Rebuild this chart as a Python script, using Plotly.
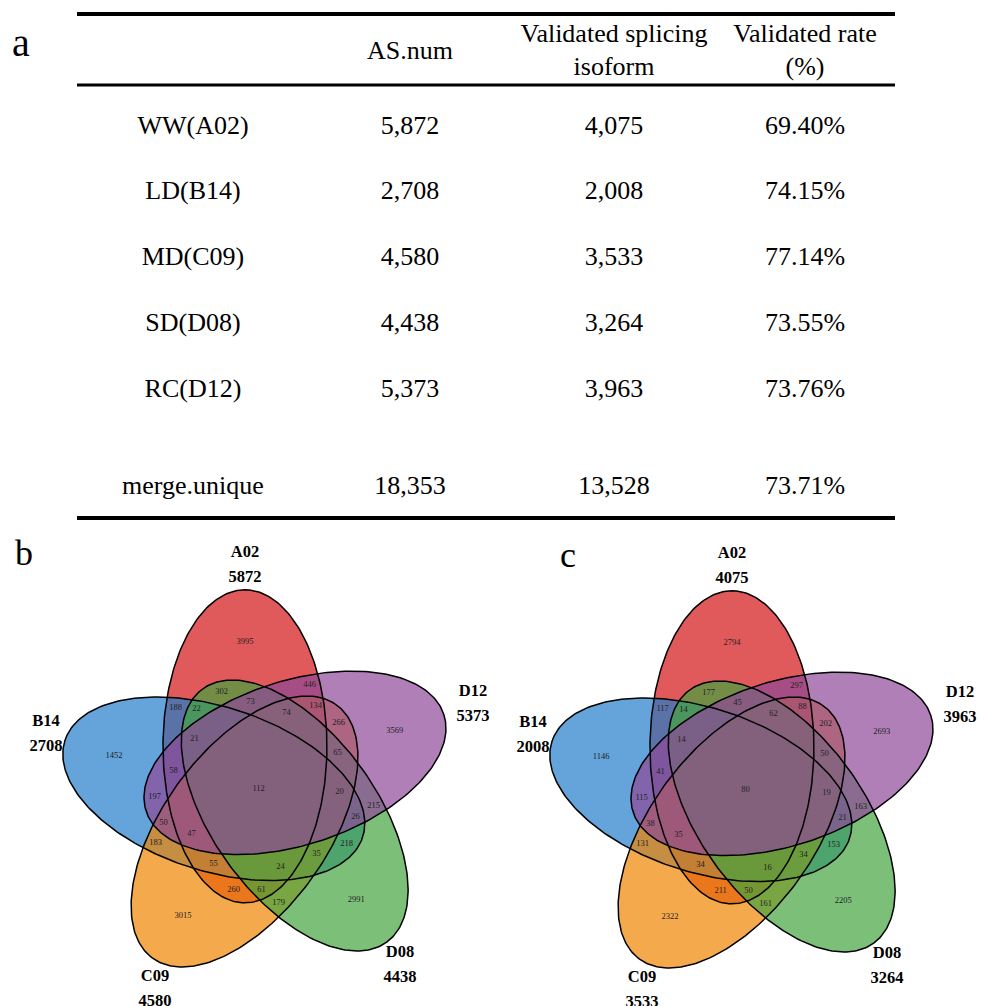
import numpy as np
import plotly.graph_objects as go

# ---------------- data: panel a (table) ----------------
samples = ["WW(A02)", "LD(B14)", "MD(C09)", "SD(D08)", "RC(D12)", "merge.unique"]
as_num = [5872, 2708, 4580, 4438, 5373, 18353]
validated = [4075, 2008, 3533, 3264, 3963, 13528]
rate = [69.40, 74.15, 77.14, 73.55, 73.76, 73.71]
headers = ["", "AS.num", "Validated splicing<br>isoform", "Validated rate<br>(%)"]

# ---------------- data: panels b, c (5-set Venn) ----------------
set_letters = ["A", "B", "C", "D", "E"]
set_names = ["A02", "B14", "C09", "D08", "D12"]
combos = ["A", "B", "C", "D", "E",
          "AB", "AC", "AD", "AE", "BC", "BD", "BE", "CD", "CE", "DE",
          "ABC", "ABD", "ABE", "ACD", "ACE", "ADE", "BCD", "BCE", "BDE", "CDE",
          "ABCD", "ABCE", "ABDE", "ACDE", "BCDE", "ABCDE"]
counts_b = [3995, 1452, 3015, 2991, 3569,
            188, 260, 302, 446, 183, 218, 197, 179, 266, 215,
            55, 22, 58, 61, 134, 73, 35, 50, 26, 65,
            24, 47, 21, 74, 20, 112]
counts_c = [2794, 1146, 2322, 2205, 2693,
            117, 211, 177, 297, 131, 153, 115, 161, 202, 163,
            34, 14, 41, 50, 88, 45, 34, 38, 21, 50,
            16, 35, 14, 62, 19, 80]

# ---------------- layout / style constants ----------------
W, H = 988, 1006
SERIF = "Liberation Serif, Times New Roman, serif"
SEMI_MAJOR, SEMI_MINOR = 156.5, 82.0
CENTER_SHIFT, SHIFT_ANGLE, MAJOR_ANGLE = 44.8, 107.7, 90.0
VENN_CENTERS = [(258.6, 789.0), (745.6, 790.0)]
FILLS = ["rgba(211,19,22,0.7)", "rgba(34,126,202,0.7)", "rgba(239,132,2,0.7)",
         "rgba(69,164,62,0.7)", "rgba(142,72,152,0.7)"]
NAME_OFFSETS = [(-13.6, -236), (-212.6, -67), (-103.6, 188), (141.4, 164), (214.4, -97)]
TOTAL_DY = 25
SINGLE_LABEL_FRAC = 0.67   # single-set labels sit on the major axis, toward the outer tip
PULL_MULTI = 0.05

COL_X = [193, 410, 614, 805]
HEADER_Y = 52
ROW_Y0, ROW_STEP, SUMMARY_GAP = 127, 65.8, 97
TABLE_X0, TABLE_X1 = 77, 895
RULES = [(14, 4), (85, 3), (518, 4)]
TABLE_FONT = 26

fig = go.Figure()


def ellipse_params(cx, cy):
    out = []
    for k in range(5):
        ang = np.radians(SHIFT_ANGLE + 72 * k)
        ex = cx + CENTER_SHIFT * np.cos(ang)
        ey = cy - CENTER_SHIFT * np.sin(ang)
        out.append((ex, ey, np.radians(MAJOR_ANGLE + 72 * k)))
    return out


def ellipse_xy(ex, ey, rot, n=260):
    t = np.linspace(0, 2 * np.pi, n)
    u, v = SEMI_MAJOR * np.cos(t), SEMI_MINOR * np.sin(t)
    return ex + u * np.cos(rot) - v * np.sin(rot), ey - (u * np.sin(rot) + v * np.cos(rot))


def region_label_positions(params, cx, cy):
    gx = np.arange(cx - 260, cx + 260, 1.0)
    gy = np.arange(cy - 260, cy + 260, 1.0)
    X, Y = np.meshgrid(gx, gy)
    mask = np.zeros(X.shape, dtype=int)
    clear = np.full(X.shape, 1e9)
    for k, (ex, ey, rot) in enumerate(params):
        dx, dy = X - ex, -(Y - ey)
        u = dx * np.cos(rot) + dy * np.sin(rot)
        v = -dx * np.sin(rot) + dy * np.cos(rot)
        F = (u / SEMI_MAJOR) ** 2 + (v / SEMI_MINOR) ** 2 - 1
        g = np.hypot(2 * u / SEMI_MAJOR ** 2, 2 * v / SEMI_MINOR ** 2) + 1e-9
        d = np.minimum(np.abs(F) / g, SEMI_MINOR)
        clear = np.minimum(clear, d)
        mask += (F < 0).astype(int) << k
    dist_c = np.hypot(X - cx, Y - cy)
    xs, ys = [], []
    for c in combos:
        if len(c) == 1:
            ex, ey, rot = params[set_letters.index(c)]
            r = SINGLE_LABEL_FRAC * SEMI_MAJOR
            xs.append(ex + r * np.cos(rot)); ys.append(ey - r * np.sin(rot))
            continue
        bits = sum(1 << set_letters.index(ch) for ch in c)
        score = np.where(mask == bits, clear - PULL_MULTI * dist_c, -1e9)
        i = np.unravel_index(np.argmax(score), score.shape)
        xs.append(X[i]); ys.append(Y[i])
    return xs, ys


for (cx, cy), counts in zip(VENN_CENTERS, [counts_b, counts_c]):
    params = ellipse_params(cx, cy)
    for k, (ex, ey, rot) in enumerate(params):
        x, y = ellipse_xy(ex, ey, rot)
        fig.add_trace(go.Scatter(x=x, y=y, mode="lines", fill="toself", fillcolor=FILLS[k],
                                 line=dict(width=0, color="rgba(0,0,0,0)"), hoverinfo="skip"))
    for k, (ex, ey, rot) in enumerate(params):
        x, y = ellipse_xy(ex, ey, rot)
        fig.add_trace(go.Scatter(x=x, y=y, mode="lines", line=dict(width=1.5, color="black"),
                                 hoverinfo="skip"))
    lx, ly = region_label_positions(params, cx, cy)
    fig.add_trace(go.Scatter(x=lx, y=ly, mode="text", text=[str(v) for v in counts],
                             textfont=dict(family=SERIF, size=8.5, color="#222"),
                             textposition="middle center", hoverinfo="skip"))
    totals = [sum(n for c, n in zip(combos, counts) if s in c) for s in set_letters]
    fig.add_trace(go.Scatter(x=[cx + o[0] for o in NAME_OFFSETS], y=[cy + o[1] for o in NAME_OFFSETS],
                             mode="text", text=[f"<b>{s}</b>" for s in set_names],
                             textfont=dict(family=SERIF, size=16.5, color="black"), hoverinfo="skip"))
    fig.add_trace(go.Scatter(x=[cx + o[0] for o in NAME_OFFSETS],
                             y=[cy + o[1] + TOTAL_DY for o in NAME_OFFSETS],
                             mode="text", text=[f"<b>{t}</b>" for t in totals],
                             textfont=dict(family=SERIF, size=16.5, color="black"), hoverinfo="skip"))

# ---------------- table ----------------
row_y = [ROW_Y0 + i * ROW_STEP for i in range(len(samples) - 1)]
row_y.append(row_y[-1] + SUMMARY_GAP)
fig.add_trace(go.Scatter(x=COL_X, y=[HEADER_Y] * 4, mode="text", text=headers,
                         textfont=dict(family=SERIF, size=TABLE_FONT, color="black"), hoverinfo="skip"))
columns = [samples, [f"{v:,}" for v in as_num], [f"{v:,}" for v in validated], [f"{v:.2f}%" for v in rate]]
for j, col in enumerate(columns):
    fig.add_trace(go.Scatter(x=[COL_X[j]] * len(col), y=row_y, mode="text", text=col,
                             textfont=dict(family=SERIF, size=TABLE_FONT, color="black"), hoverinfo="skip"))

shapes = [dict(type="line", xref="x", yref="y", x0=TABLE_X0, x1=TABLE_X1, y0=yy, y1=yy,
               line=dict(color="black", width=wd)) for yy, wd in RULES]

annotations = [
    dict(x=21, y=42, text="a", showarrow=False, font=dict(family=SERIF, size=40, color="black")),
    dict(x=24, y=553, text="b", showarrow=False, font=dict(family=SERIF, size=36, color="black")),
    dict(x=568, y=555, text="c", showarrow=False, font=dict(family=SERIF, size=36, color="black")),
]

fig.update_layout(
    width=W, height=H, margin=dict(l=0, r=0, t=0, b=0),
    paper_bgcolor="white", plot_bgcolor="white", showlegend=False,
    xaxis=dict(range=[0, W], visible=False, fixedrange=True),
    yaxis=dict(range=[H, 0], visible=False, fixedrange=True),
    shapes=shapes, annotations=annotations,
)

fig.write_html("out.html", config={"displayModeBar": False},
               post_script="document.body.style.margin='0';")
